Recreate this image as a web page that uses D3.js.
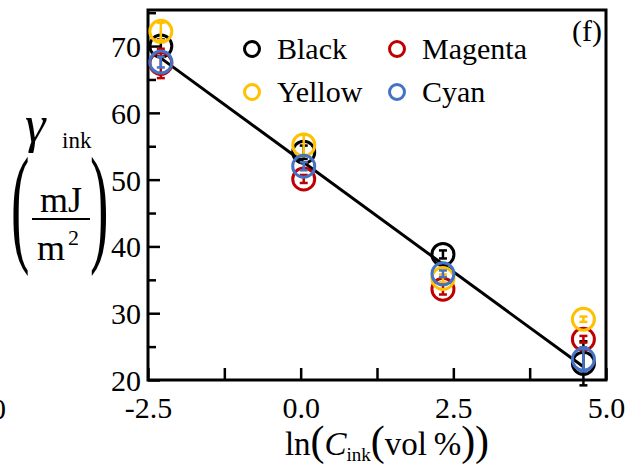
<!DOCTYPE html>
<html>
<head>
<meta charset="utf-8">
<script src="https://cdn.jsdelivr.net/npm/d3@7"></script>
<style>
  html, body { margin: 0; padding: 0; background: #fff; }
  svg { display: block; }
  text { font-family: "Liberation Serif", "Times New Roman", serif; fill: #000; }
</style>
</head>
<body>
<svg id="chart" width="634" height="467"></svg>
<script>
// ln of ink concentration (vol%) for each sample group
const lnConc = [-2.29, 0.05, 2.33, 4.63];

// surface tension of each ink (mJ/m^2) and its error
const blackVals   = [70.0, 54.1, 38.8, 22.5];
const blackErr    = [1.0, 1.0, 0.6, 3.3];
const magentaVals = [67.4, 50.1, 33.6, 26.1];
const magentaErr  = [2.2, 0.6, 0.8, 0.5];
const yellowVals  = [72.2, 55.2, 35.2, 29.1];
const yellowErr   = [1.3, 1.5, 0.6, 0.4];
const cyanVals    = [67.6, 52.0, 35.9, 23.1];
const cyanErr     = [0.8, 0.6, 0.5, 1.8];

// linear fit  gamma = intercept + slope * ln(C)
const fitSlope = -6.68;
const fitIntercept = 52.9;

const xTicks = [-2.5, -1.25, 0, 1.25, 2.5, 3.75, 5];
const xLabels = [-2.5, 0, 2.5, 5];
const yTicks = [20, 25, 30, 35, 40, 45, 50, 55, 60, 65, 70, 75];
const yLabels = [20, 30, 40, 50, 60, 70];

const series = [
  { name: "Black",   color: "#000000", values: blackVals,   err: blackErr },
  { name: "Magenta", color: "#c00000", values: magentaVals, err: magentaErr },
  { name: "Yellow",  color: "#ffc000", values: yellowVals,  err: yellowErr },
  { name: "Cyan",    color: "#4472c4", values: cyanVals,    err: cyanErr }
];

const svg = d3.select("#chart");
const plotL = 148, plotR = 606, plotT = 10, plotB = 380;

const x = d3.scaleLinear().domain([-2.5, 5]).range([plotL, plotR]);
const y = d3.scaleLinear().domain([20, 75.4]).range([plotB, plotT]);

const fmtX = v => d3.format(".1f")(v).replace("\u2212", "-");

// x axis: inward ticks, labels on the major ones
const xAxis = svg.append("g")
  .attr("transform", `translate(0,${plotB})`)
  .call(d3.axisBottom(x).tickValues(xTicks).tickSize(-12)
    .tickFormat(v => xLabels.includes(v) ? fmtX(v) : ""));
xAxis.select(".domain").remove();
xAxis.selectAll(".tick line").attr("stroke", "#000").attr("stroke-width", 2.5);
xAxis.selectAll(".tick text")
  .attr("y", 38).attr("dy", 0).attr("fill", "#000")
  .style("font-size", "30px").style("font-family", "'Liberation Serif', serif");

// y axis: inward ticks, long on labeled values
const yAxis = svg.append("g")
  .attr("transform", `translate(${plotL},0)`)
  .call(d3.axisLeft(y).tickValues(yTicks).tickSize(0)
    .tickFormat(v => yLabels.includes(v) ? String(v) : ""));
yAxis.select(".domain").remove();
yAxis.selectAll(".tick line")
  .attr("x2", d => yLabels.includes(d) ? 12 : 8)
  .attr("stroke", "#000").attr("stroke-width", 2.5);
yAxis.selectAll(".tick text")
  .attr("x", -7).attr("dy", "0.35em").attr("fill", "#000")
  .style("font-size", "30px").style("font-family", "'Liberation Serif', serif");

// plot frame
svg.append("rect")
  .attr("x", plotL).attr("y", plotT)
  .attr("width", plotR - plotL).attr("height", plotB - plotT)
  .attr("fill", "none").attr("stroke", "#000").attr("stroke-width", 3);

// fit line across the data range
const fitX = d3.extent(lnConc);
svg.append("line")
  .attr("x1", x(fitX[0])).attr("y1", y(fitIntercept + fitSlope * fitX[0]))
  .attr("x2", x(fitX[1])).attr("y2", y(fitIntercept + fitSlope * fitX[1]))
  .attr("stroke", "#000").attr("stroke-width", 3);

// open markers with error bars
const drawOrder = ["Black", "Magenta", "Yellow", "Cyan"];
drawOrder.forEach(name => {
  const s = series.find(d => d.name === name);
  const g = svg.append("g");
  lnConc.forEach((cx, i) => {
    const v = s.values[i], e = s.err[i];
    const px = x(cx);
    g.append("circle")
      .attr("cx", px).attr("cy", y(v)).attr("r", 11)
      .attr("fill", "none").attr("stroke", s.color).attr("stroke-width", 3);
    g.append("line")
      .attr("x1", px).attr("x2", px).attr("y1", y(v - e)).attr("y2", y(v + e))
      .attr("stroke", s.color).attr("stroke-width", 2.5);
    [v - e, v + e].forEach(ev => {
      g.append("line")
        .attr("x1", px - 4).attr("x2", px + 4).attr("y1", y(ev)).attr("y2", y(ev))
        .attr("stroke", s.color).attr("stroke-width", 2.5);
    });
  });
});

// legend, two columns
const legendPos = [
  { name: "Black",   cx: 252, cy: 49 },
  { name: "Magenta", cx: 397, cy: 49 },
  { name: "Yellow",  cx: 252, cy: 92 },
  { name: "Cyan",    cx: 397, cy: 92 }
];
legendPos.forEach(p => {
  const s = series.find(d => d.name === p.name);
  svg.append("circle").attr("cx", p.cx).attr("cy", p.cy).attr("r", 7.5)
    .attr("fill", "none").attr("stroke", s.color).attr("stroke-width", 3);
  svg.append("text").attr("x", p.cx + 25).attr("y", p.cy + 10)
    .style("font-size", "30px").text(s.name);
});

// panel tag
svg.append("text").attr("x", 602).attr("y", 41).attr("text-anchor", "end")
  .style("font-size", "30px").text("(f)");

// neighbouring panel's axis label edge
svg.append("text").attr("x", 6).attr("y", 419).attr("text-anchor", "end")
  .style("font-size", "30px").text("5.0");

// y axis title: gamma_ink (mJ / m^2)
svg.append("text").attr("x", 25).attr("y", 142)
  .style("font-size", "52px").style("font-style", "italic").text("\u03b3");
svg.append("text").attr("x", 62).attr("y", 148)
  .style("font-size", "23px").text("ink");
svg.append("text").attr("transform", "translate(11,248) scale(0.42,1)")
  .style("font-size", "132px").text("(");
svg.append("text").attr("transform", "translate(90,248) scale(0.42,1)")
  .style("font-size", "132px").text(")");
svg.append("text").attr("x", 61).attr("y", 212).attr("text-anchor", "middle")
  .style("font-size", "36px").text("mJ");
svg.append("line").attr("x1", 32).attr("x2", 90).attr("y1", 219).attr("y2", 219)
  .attr("stroke", "#000").attr("stroke-width", 2);
svg.append("text").attr("x", 37).attr("y", 260)
  .style("font-size", "36px").text("m");
svg.append("text").attr("x", 68).attr("y", 245)
  .style("font-size", "22px").text("2");

// x axis title: ln(C_ink(vol%))
const xt = svg.append("text").attr("x", 387).attr("y", 455).attr("text-anchor", "middle")
  .style("font-size", "33px");
xt.append("tspan").text("ln");
xt.append("tspan").style("font-size", "42px").text("(");
xt.append("tspan").style("font-style", "italic").text("C");
xt.append("tspan").style("font-size", "19px").attr("dy", 6).text("ink");
xt.append("tspan").style("font-size", "42px").attr("dy", -6).text("(");
xt.append("tspan").text("vol\u2009%");
xt.append("tspan").style("font-size", "42px").text("))");
</script>
</body>
</html>
